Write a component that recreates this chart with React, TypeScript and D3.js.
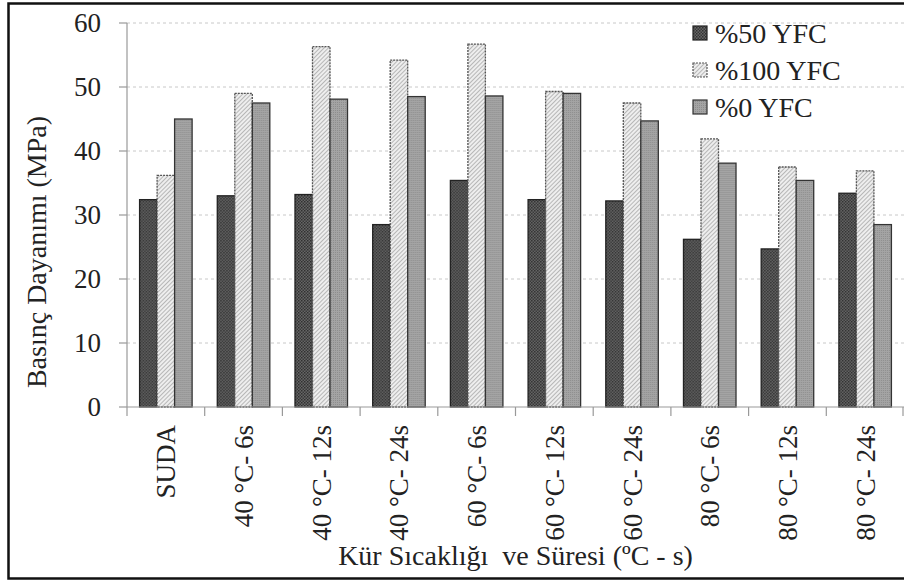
import React from "react";
import * as d3 from "d3";

const categories = ["SUDA", "40 °C- 6s", "40 °C- 12s", "40 °C- 24s", "60 °C- 6s", "60 °C- 12s", "60 °C- 24s", "80 °C- 6s", "80 °C- 12s", "80 °C- 24s"];
const seriesNames = ["%50 YFC", "%100 YFC", "%0 YFC"];
const yfc50 = [32.4, 33.0, 33.2, 28.5, 35.4, 32.4, 32.2, 26.2, 24.7, 33.4];
const yfc100 = [36.2, 49.0, 56.3, 54.2, 56.7, 49.3, 47.5, 41.9, 37.5, 36.9];
const yfc0 = [45.0, 47.5, 48.1, 48.5, 48.6, 49.0, 44.7, 38.1, 35.4, 28.5];
const yTicks = [0, 10, 20, 30, 40, 50, 60];

const W = 904;
const H = 583;
const left = 127;
const right = 904;
const top = 23;
const bottom = 407;

const fills = ["url(#pDark)", "url(#pHatch)", "url(#pGrey)"];
const strokes = ["#222", "#555", "#333"];
const dashes = [null, "2,1", null];

export default function App() {
  const series = [yfc50, yfc100, yfc0];
  const x0 = d3.scaleBand<string>().domain(categories).range([left, right]).paddingInner(0.324).paddingOuter(0.162);
  const x1 = d3.scaleBand<number>().domain([0, 1, 2]).range([0, x0.bandwidth()]).padding(0);
  const y = d3.scaleLinear().domain([0, 60]).range([bottom, top]);
  const step = x0.step();
  const fontStyle = { fontFamily: '"Liberation Serif", "Times New Roman", "DejaVu Serif", serif' };

  return (
    <div style={{ position: "absolute", left: 0, top: 0, width: W, height: H, background: "#fff" }}>
      <svg width={W} height={H} style={{ display: "block", ...fontStyle }}>
        <defs>
          <pattern id="pDark" width="3" height="3" patternUnits="userSpaceOnUse">
            <rect width="3" height="3" fill="#666" />
            <rect width="1.5" height="1.5" fill="#303030" />
            <rect x="1.5" y="1.5" width="1.5" height="1.5" fill="#383838" />
          </pattern>
          <pattern id="pHatch" width="3" height="3" patternUnits="userSpaceOnUse" patternTransform="rotate(45)">
            <rect width="3" height="3" fill="#eeeeee" />
            <line x1="0" y1="0" x2="0" y2="3" stroke="#9a9a9a" strokeWidth="1.3" />
          </pattern>
          <pattern id="pGrey" width="2" height="2" patternUnits="userSpaceOnUse">
            <rect width="2" height="2" fill="#a4a4a4" />
            <rect width="1" height="1" fill="#8e8e8e" />
          </pattern>
        </defs>

        {/* frame (top, left, bottom) */}
        <path d={`M${W},3.5 H8.5 V578.5 H${W}`} fill="none" stroke="#111" strokeWidth={2.5} />

        {/* gridlines */}
        {yTicks.filter((t) => t > 0).map((t) => (
          <line key={t} x1={left} x2={right} y1={y(t)} y2={y(t)} stroke="#c8c8c8" strokeWidth={1} strokeDasharray="3,3" />
        ))}

        {/* bars */}
        {categories.map((c, i) => (
          <g key={c} transform={`translate(${x0(c)},0)`}>
            {series.map((s, k) => (
              <rect
                key={k}
                x={x1(k)}
                y={y(s[i])}
                width={x1.bandwidth()}
                height={bottom - y(s[i])}
                fill={fills[k]}
                stroke={strokes[k]}
                strokeWidth={1.3}
                strokeDasharray={dashes[k] || undefined}
              />
            ))}
          </g>
        ))}

        {/* y axis */}
        <line x1={left} x2={left} y1={top} y2={bottom} stroke="#999" strokeWidth={1.2} />
        {yTicks.map((t) => (
          <g key={t}>
            <line x1={left - 8} x2={left} y1={y(t)} y2={y(t)} stroke="#999" strokeWidth={1.2} />
            <text x={101} y={y(t)} dy="0.35em" textAnchor="end" fontSize={27} fill="#222" style={fontStyle}>
              {t}
            </text>
          </g>
        ))}

        {/* x axis */}
        <line x1={left} x2={right} y1={bottom} y2={bottom} stroke="#999" strokeWidth={1.2} />
        {d3.range(categories.length + 1).map((i) => (
          <line key={i} x1={Math.min(left + i * step, right - 1)} x2={Math.min(left + i * step, right - 1)} y1={bottom} y2={bottom + 9} stroke="#999" strokeWidth={1.2} />
        ))}
        {categories.map((c) => {
          const cx = (x0(c) as number) + x0.bandwidth() / 2;
          return (
            <text
              key={c}
              transform={`translate(${cx},${425}) rotate(-90)`}
              dy="0.35em"
              textAnchor="end"
              fontSize={27}
              fill="#222"
              style={fontStyle}
            >
              {c}
            </text>
          );
        })}

        {/* axis titles */}
        <text x={(left + right) / 2} y={565} textAnchor="middle" fontSize={28} fill="#222" style={{ ...fontStyle, whiteSpace: "pre" }}>
          Kür Sıcaklığı  ve Süresi (ºC - s)
        </text>
        <text transform={`translate(36,252) rotate(-90)`} dy="0.35em" textAnchor="middle" fontSize={28} fill="#222" style={fontStyle}>
          Basınç Dayanımı (MPa)
        </text>

        {/* legend */}
        {seriesNames.map((n, k) => (
          <g key={n} transform={`translate(693,${33 + k * 37})`}>
            <rect x={0} y={-7} width={14} height={14} fill={fills[k]} stroke={strokes[k]} strokeWidth={1.2} strokeDasharray={dashes[k] || undefined} />
            <text x={22} y={0} dy="0.35em" fontSize={28} fill="#222" style={fontStyle}>
              {n}
            </text>
          </g>
        ))}
      </svg>
    </div>
  );
}
